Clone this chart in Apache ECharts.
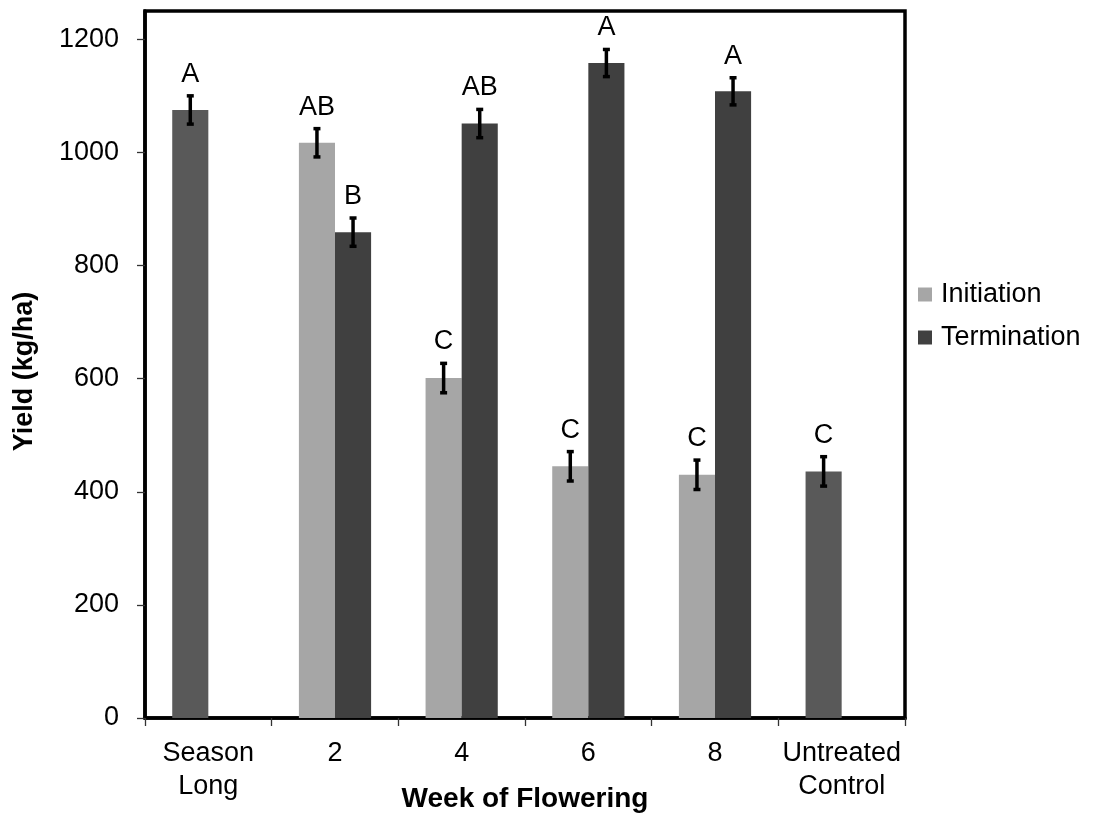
<!DOCTYPE html>
<html>
<head>
<meta charset="utf-8">
<title>Yield by Week of Flowering</title>
<script src="https://cdn.jsdelivr.net/npm/echarts@6/dist/echarts.min.js"></script>
<style>
  html, body { margin: 0; padding: 0; background: #fff; }
  #chart { width: 1098px; height: 816px; }
</style>
</head>
<body>
<div id="chart"></div>
<script>
// Categories along the x axis
const categories = ['Season\nLong', '2', '4', '6', '8', 'Untreated\nControl'];

// Mean yield (kg/ha) for each treatment timing
const initiation  = [null, 1017, 601, 445, 430, null];
const termination = [null, 859, 1051, 1158, 1108, null];
// Season-long protection and untreated control share the first bar slot
const checks      = [1075, null, null, null, null, 436];

// Standard error of each mean
const initiationErr  = [null, 25, 26, 26, 26, null];
const terminationErr = [null, 25, 25, 24, 24, null];
const checkErr       = [25, null, null, null, null, 26];

// Mean separation letters
const initiationLetters  = ['', 'AB', 'C', 'C', 'C', ''];
const terminationLetters = ['', 'B', 'AB', 'A', 'A', ''];
const checkLetters       = ['A', '', '', '', '', 'C'];

// Y axis tick values
const yTicks = [0, 200, 400, 600, 800, 1000, 1200];

const CATEGORY_GAP = 0.43;
const FONT = '"Liberation Sans", Arial, sans-serif';

// Combine checks into the first slot with their own colour
const firstSlot = categories.map((c, i) => {
  if (checks[i] != null) {
    return { value: checks[i], itemStyle: { color: '#595959' } };
  }
  return initiation[i];
});

function errData(values, errs, letters) {
  const out = [];
  values.forEach((v, i) => {
    if (v != null) out.push({ value: [i, v, errs[i]], letter: letters[i] });
  });
  return out;
}

const slot0Err = errData(
  categories.map((c, i) => checks[i] != null ? checks[i] : initiation[i]),
  categories.map((c, i) => checkErr[i] != null ? checkErr[i] : initiationErr[i]),
  categories.map((c, i) => checkLetters[i] || initiationLetters[i])
);
const slot1Err = errData(termination, terminationErr, terminationLetters);

function errorRenderer(slot, list) {
  return function (params, api) {
    const idx = api.value(0), val = api.value(1), err = api.value(2);
    const band = api.size([1, 0])[0];
    const barW = band * (1 - CATEGORY_GAP) / 2;
    const cx = api.coord([idx, 0])[0] + (slot - 0.5) * barW;
    const yHi = api.coord([idx, val + err])[1];
    const yLo = api.coord([idx, val - err])[1];
    const cap = 3.5;
    const lineStyle = { stroke: '#000', lineWidth: 3.5 };
    return {
      type: 'group',
      children: [
        { type: 'line', shape: { x1: cx, y1: yHi, x2: cx, y2: yLo }, style: lineStyle },
        { type: 'line', shape: { x1: cx - cap, y1: yHi, x2: cx + cap, y2: yHi }, style: lineStyle },
        { type: 'line', shape: { x1: cx - cap, y1: yLo, x2: cx + cap, y2: yLo }, style: lineStyle },
        {
          type: 'text',
          style: {
            x: cx, y: yHi - 8,
            text: list[params.dataIndex].letter,
            fill: '#000',
            font: '27px ' + FONT,
            align: 'center',
            verticalAlign: 'bottom'
          }
        }
      ]
    };
  };
}

const chart = echarts.init(document.getElementById('chart'), null, { renderer: 'canvas' });

chart.setOption({
  animation: false,
  backgroundColor: '#fff',
  textStyle: { fontFamily: FONT },
  grid: {
    left: 145, right: 193, top: 11, bottom: 98,
    containLabel: false,
    outerBoundsMode: 'none',
    show: true, borderColor: '#000', borderWidth: 3.5, backgroundColor: 'transparent'
  },
  legend: {
    data: ['Initiation', 'Termination'],
    orient: 'vertical',
    left: 913, top: 276,
    itemWidth: 14, itemHeight: 14, itemGap: 16,
    icon: 'rect',
    textStyle: { fontSize: 27, color: '#000', fontFamily: FONT, padding: [0, 0, 0, 4] }
  },
  xAxis: {
    type: 'category',
    data: categories,
    name: 'Week of Flowering',
    nameLocation: 'middle',
    nameGap: 67,
    nameMoveOverlap: false,
    nameTextStyle: { fontSize: 28, fontWeight: 'bold', color: '#000', fontFamily: FONT },
    axisLine: { show: true, lineStyle: { color: '#000', width: 3.5 } },
    axisTick: { show: true, length: 8, lineStyle: { color: '#333', width: 1.3 } },
    axisLabel: { fontSize: 27, color: '#000', lineHeight: 33, margin: 19, fontFamily: FONT, interval: 0 },
    splitLine: { show: false }
  },
  yAxis: {
    type: 'value',
    min: 0, max: 1250, interval: 200,
    name: 'Yield (kg/ha)',
    nameLocation: 'middle',
    nameGap: 107,
    nameMoveOverlap: false,
    nameTextStyle: { fontSize: 27, fontWeight: 'bold', color: '#000', fontFamily: FONT, padding: [0, 14, 0, 0] },
    axisLine: { show: true, lineStyle: { color: '#000', width: 3.5 } },
    axisTick: { show: true, length: 8, lineStyle: { color: '#333', width: 1.3 }, customValues: yTicks },
    axisLabel: {
      fontSize: 27, color: '#000', margin: 26, fontFamily: FONT,
      customValues: yTicks,
      formatter: v => (yTicks.indexOf(v) >= 0 ? String(v) : '')
    },
    splitLine: { show: false }
  },
  series: [
    {
      name: 'Initiation',
      type: 'bar',
      data: firstSlot,
      itemStyle: { color: '#a6a6a6' },
      barGap: '0%',
      barCategoryGap: (CATEGORY_GAP * 100) + '%'
    },
    {
      name: 'Termination',
      type: 'bar',
      data: termination,
      itemStyle: { color: '#404040' },
      barGap: '0%',
      barCategoryGap: (CATEGORY_GAP * 100) + '%'
    },
    {
      name: 'err0',
      type: 'custom',
      renderItem: errorRenderer(0, slot0Err),
      data: slot0Err.map(d => d.value),
      clip: false,
      z: 10
    },
    {
      name: 'err1',
      type: 'custom',
      renderItem: errorRenderer(1, slot1Err),
      data: slot1Err.map(d => d.value),
      clip: false,
      z: 10
    }
  ]
});
</script>
</body>
</html>
